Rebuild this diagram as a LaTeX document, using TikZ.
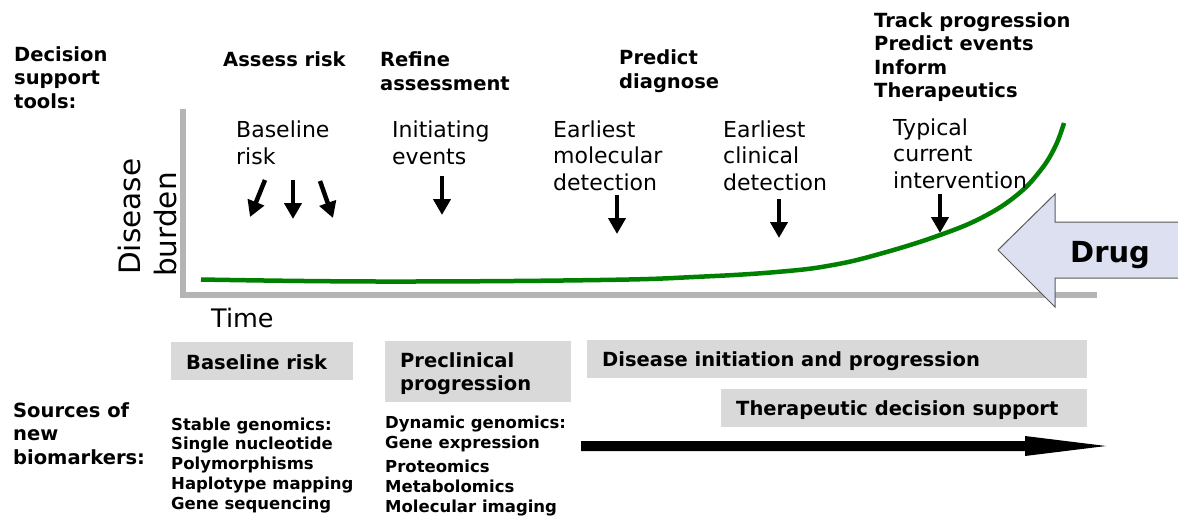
\documentclass[tikz,border=0pt]{standalone}
\usepackage{fontspec}
\setmainfont{DejaVu Sans}
\usetikzlibrary{arrows.meta,calc}
\definecolor{axisgray}{RGB}{180,180,180}
\definecolor{boxgray}{RGB}{217,217,217}
\definecolor{curvegreen}{RGB}{0,128,0}
\definecolor{drugfill}{RGB}{221,224,241}
\definecolor{drugline}{RGB}{90,90,90}
\tikzset{
  hd/.style={font=\fontsize{19.5}{23.5}\selectfont\bfseries, anchor=base west, inner sep=0pt, align=left},
  lbl/.style={font=\fontsize{22}{26.8}\selectfont, anchor=base west, inner sep=0pt, align=left},
  src/.style={font=\fontsize{16.5}{19.8}\selectfont\bfseries, anchor=base west, inner sep=0pt, align=left},
  axislbl/.style={font=\fontsize{29.5}{29.5}\selectfont, anchor=base west, inner sep=0pt},
  bar/.style={fill=boxgray, draw=none},
  tickarrow/.style={line width=4.5pt, -{Triangle[length=16pt,width=17pt]}},
}
\begin{document}
\begin{tikzpicture}[x=1pt,y=-1pt]
\useasboundingbox[fill=white] (0,0) rectangle (1178,515);

% axes
\draw[axisgray, line width=5.5pt] (183,109) -- (183,295) -- (1097,295);

% disease curve
\draw[curvegreen, line width=4.5pt] plot[smooth, tension=0.7] coordinates
  {(201,279.5) (380,281.5) (600,280) (700,276.7) (780,271.7) (833,265) (883,253) (940,235) (983,217) (1017,195) (1040,171) (1055,147) (1064,123)};

% drug arrow
\draw[fill=drugfill, draw=drugline, line width=1pt]
  (998,250) -- (1055,194) -- (1055,222) -- (1185,222) -- (1185,278) -- (1055,278) -- (1055,307) -- cycle;
\node[font=\fontsize{29}{29}\selectfont\bfseries, anchor=base west, inner sep=0pt] (drug) at (1070,262) {Drug};

% axis labels
\node[axislbl, rotate=90] (dis) at (140,275) {Disease};
\node[axislbl, rotate=90] (bur) at (176,277) {burden};
\node[font=\fontsize{25.5}{25.5}\selectfont, anchor=base west, inner sep=0pt] (time) at (211,327) {Time};

% decision support tools (anchor = baseline of last line)
\node[hd] (dst) at (14,108) {Decision\\support\\tools:};
\node[hd] (assess) at (223,66) {Assess risk};
\node[hd] (refine) at (380,90) {Refine\\assessment};
\node[hd] (predict) at (619,88) {Predict\\diagnose};
\node[hd] (track) at (874,97.5) {Track progression\\Predict events\\Inform\\Therapeutics};

% stage labels
\node[lbl] (base) at (236,164) {Baseline\\risk};
\node[lbl] (init) at (392,164) {Initiating\\events};
\node[lbl] (molec) at (553,190.6) {Earliest\\molecular\\detection};
\node[lbl] (clin) at (723,190.6) {Earliest\\clinical\\detection};
\node[lbl] (typ) at (893,188.6) {Typical\\current\\intervention};

% small arrows
\coordinate (b1s) at (265,180); \coordinate (b1e) at (250,217);
\coordinate (b2s) at (293,180); \coordinate (b2e) at (293,219);
\coordinate (b3s) at (320,181); \coordinate (b3e) at (333,218);
\coordinate (ies) at (442,176); \coordinate (iee) at (442,215);
\coordinate (mos) at (617,195); \coordinate (moe) at (617,234);
\coordinate (cls) at (779,199); \coordinate (cle) at (779,238);
\coordinate (tys) at (940,194); \coordinate (tye) at (940,233);
\draw[tickarrow] (b1s) -- (b1e);
\draw[tickarrow] (b2s) -- (b2e);
\draw[tickarrow] (b3s) -- (b3e);
\draw[tickarrow] (ies) -- (iee);
\draw[tickarrow] (mos) -- (moe);
\draw[tickarrow] (cls) -- (cle);
\draw[tickarrow] (tys) -- (tye);

% grey bars
\path[bar] (171,342) rectangle (353,380);
\path[bar] (385,341) rectangle (571,402);
\path[bar] (587,340) rectangle (1087,378);
\path[bar] (721,389) rectangle (1087,427);
\node[hd] (bbr) at (186,369) {Baseline risk};
\node[hd] (bpre) at (400,390.5) {Preclinical\\progression};
\node[hd] (bdis) at (602,366) {Disease initiation and progression};
\node[hd] (bther) at (736,415) {Therapeutic decision support};

% sources
\node[hd] (sources) at (13,464) {Sources of\\new\\biomarkers:};
\node[src] (stable) at (171,509.2) {Stable genomics:\\Single nucleotide\\Polymorphisms\\Haplotype mapping\\Gene sequencing};
\node[src, font=\fontsize{16.5}{20}\selectfont\bfseries] (dyn) at (385,512) {Dynamic genomics:\\Gene expression\\[4pt]Proteomics\\Metabolomics\\Molecular imaging};

% big time arrow
\coordinate (bigS) at (581,446);
\coordinate (bigH) at (1025,446);
\coordinate (bigE) at (1106,446);
\fill ($(bigS)+(0,-5)$) -- ($(bigH)+(0,-5)$) -- ($(bigH)+(0,-10)$) -- (bigE)
  -- ($(bigH)+(0,10)$) -- ($(bigH)+(0,5)$) -- ($(bigS)+(0,5)$) -- cycle;
\end{tikzpicture}
\end{document}
